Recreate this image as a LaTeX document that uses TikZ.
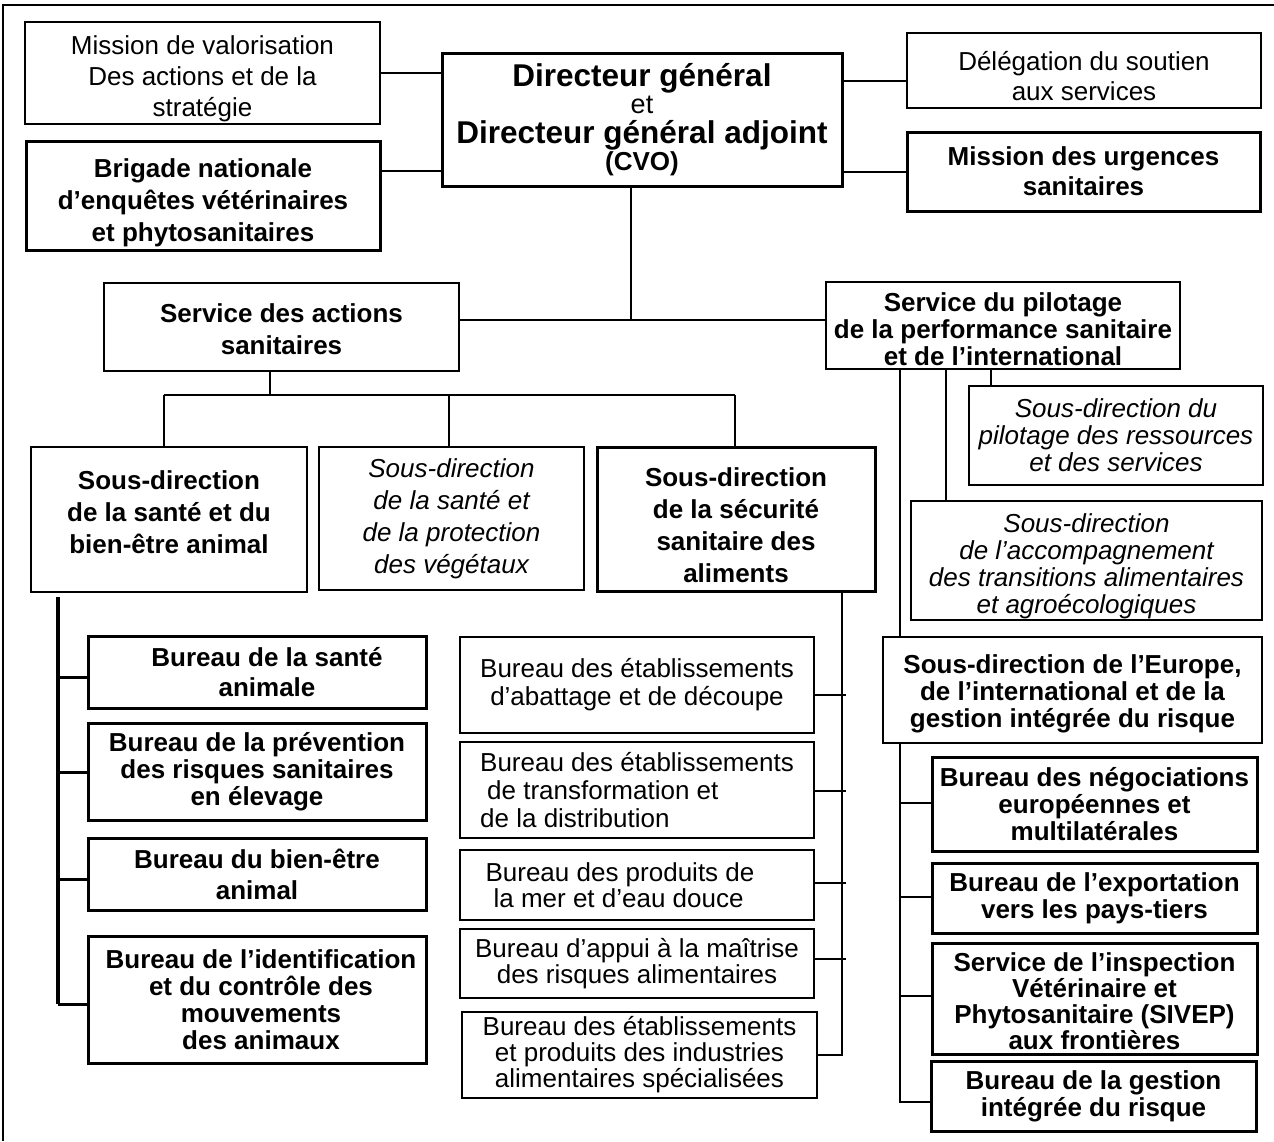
\documentclass[tikz,border=0pt]{standalone}
\usepackage{fontspec}
\setmainfont{Liberation Sans}
\newcommand\tightlines{\lineskiplimit=-40pt\lineskip=0pt}
\newcommand\tophi[1]{\rule{0pt}{#1pt}}
\newcommand\botlo[1]{\rule[-#1pt]{0pt}{0pt}}
\begin{document}
\begin{tikzpicture}[x=1pt,y=-1pt,
  bx/.style={draw, inner sep=0pt, outer sep=0pt, align=center, line width=#1},
  fn/.style={font={\fontsize{26}{#1}\selectfont\tightlines}},
  fb/.style={font={\fontsize{26}{#1}\selectfont\bfseries\tightlines}},
  fi/.style={font={\fontsize{26}{#1}\selectfont\itshape\tightlines}},
  con/.style={line width=2pt},
  thk/.style={line width=3pt}]
\useasboundingbox (0,0) rectangle (1274,1141);
\draw[line width=1.5pt] (3,1141) -- (3,5) -- (1274,5);

% top level
\node[bx=2pt, fn=31, minimum width=355pt, minimum height=102pt] (mv) at (202.5,73)
  {\tophi{31}Mission de valorisation\\Des actions et de la\\stratégie};
\node[bx=3pt, fb=32, minimum width=354pt, minimum height=109pt] (brig) at (203,195.5)
  {\tophi{33}Brigade nationale\\d’enquêtes vétérinaires\\et phytosanitaires};
\node[bx=3pt, fn=26, minimum width=400pt, minimum height=133pt] (dg) at (642,119.5)
  {{\fontsize{31.5}{26}\selectfont\bfseries Directeur général}\\[1pt]{\fontsize{27}{26}\selectfont et}\\[4pt]{\fontsize{31.5}{26}\selectfont\bfseries Directeur général adjoint}\\[1pt]{\bfseries (CVO)}};
\node[bx=2.5pt, fn=30, minimum width=354pt, minimum height=75pt] (del) at (1084,70.5)
  {\tophi{30}Délégation du soutien\\aux services};
\node[bx=3pt, fb=30, minimum width=353pt, minimum height=79pt] (mu) at (1083.5,171.5)
  {Mission des urgences\\sanitaires};

% services
\node[bx=2pt, fb=32, minimum width=355pt, minimum height=88pt] (sas) at (281.5,327)
  {\tophi{23}Service des actions\\sanitaires};
\node[bx=2.5pt, fb=27, minimum width=354pt, minimum height=87pt] (spp) at (1003,325.5)
  {\tophi{27}Service du pilotage\\de la performance sanitaire\\et de l’international};

% right sub-directions
\node[bx=2.5pt, fi=27, minimum width=294pt, minimum height=99pt] (spr) at (1116,435.5)
  {Sous-direction du\\pilotage des ressources\\et des services};
\node[bx=2.5pt, fi=27, minimum width=351pt, minimum height=119pt] (sac) at (1086.5,560.5)
  {\tophi{31}Sous-direction\\de l’accompagnement\\des transitions alimentaires\\et agroécologiques};
\node[bx=2.5pt, fb=27, minimum width=379pt, minimum height=106pt] (eur) at (1072.5,690)
  {\tophi{27}Sous-direction de l’Europe,\\de l’international et de la\\gestion intégrée du risque};

% middle sub-directions
\node[bx=2.5pt, fb=32, minimum width=276pt, minimum height=145pt] (sd1) at (169,519.5)
  {Sous-direction\\de la santé et du\\bien-être animal\botlo{14}};
\node[bx=2.5pt, fi=32, minimum width=265pt, minimum height=143pt] (sd2) at (451.5,518.5)
  {Sous-direction\\de la santé et\\de la protection\\des végétaux};
\node[bx=3pt, fb=32, minimum width=278pt, minimum height=144pt] (sd3) at (736,519)
  {\tophi{31}Sous-direction\\de la sécurité\\sanitaire des\\aliments};

% bureaux SD1
\node[bx=3pt, fb=30, minimum width=338pt, minimum height=72pt] (b11) at (257,672)
  {\hspace*{20pt}Bureau de la santé\\\hspace*{20pt}animale};
\node[bx=3pt, fb=27, minimum width=338pt, minimum height=97pt] (b12) at (257,771.5)
  {Bureau de la prévention\\des risques sanitaires\\en élevage};
\node[bx=3pt, fb=31, minimum width=338pt, minimum height=72pt] (b13) at (257,874)
  {Bureau du bien-être\\animal};
\node[bx=3pt, fb=27, minimum width=338pt, minimum height=127pt] (b14) at (257,999.5)
  {\hspace*{8pt}Bureau de l’identification\\\hspace*{8pt}et du contrôle des\\\hspace*{8pt}mouvements\\\hspace*{8pt}des animaux};

% bureaux SD3
\node[bx=2.5pt, fn=28, minimum width=354pt, minimum height=96pt] (b31) at (637,685)
  {Bureau des établissements\\d’abattage et de découpe};
\node[bx=2.5pt, fn=28, align=left, minimum width=354pt, minimum height=96pt] (b32) at (637,790)
  {Bureau des établissements\\\hspace*{7pt}de transformation et\\de la distribution};
\node[bx=2.5pt, fn=26, align=left, minimum width=354pt, minimum height=70pt] (b33) at (637,885)
  {Bureau des produits de\hspace*{34pt}\\\hspace*{8pt}la mer et d’eau douce};
\node[bx=2.5pt, fn=26, minimum width=354pt, minimum height=69pt] (b34) at (637,963.5)
  {Bureau d’appui à la maîtrise\\des risques alimentaires};
\node[bx=2.5pt, fn=26, minimum width=355pt, minimum height=86pt] (b35) at (639.5,1055)
  {Bureau des établissements\\et produits des industries\\alimentaires spécialisées};

% bureaux Europe
\node[bx=3pt, fb=27, minimum width=325pt, minimum height=94pt] (neg) at (1094.5,804)
  {Bureau des négociations\\européennes et\\multilatérales};
\node[bx=3pt, fb=27, minimum width=325pt, minimum height=70pt] (exp) at (1094.5,898)
  {Bureau de l’exportation\\vers les pays-tiers};
\node[bx=3pt, fb=26, minimum width=325pt, minimum height=111pt] (siv) at (1094.5,998.5)
  {\tophi{25}Service de l’inspection\\Vétérinaire et\\Phytosanitaire (SIVEP)\\aux frontières};
\node[bx=3pt, fb=27, minimum width=325pt, minimum height=70pt] (ges) at (1093.5,1096)
  {Bureau de la gestion\\intégrée du risque};

% top connectors
\draw[con] (mv.east) -- (dg.west |- mv.east);
\coordinate (cb) at (0,171);
\draw[con] (brig.east |- cb) -- (dg.west |- cb);
\coordinate (cd) at (0,81);
\draw[con] (dg.east |- cd) -- (del.west |- cd);
\draw[con] (dg.east |- mu.west) -- (mu.west);
\coordinate (j0) at (631,320);
\draw[con] (dg.south -| j0) -- (j0);
\draw[con] (sas.east |- j0) -- (spp.west |- j0);

% service des actions -> sous-directions
\coordinate (j1) at (270,395);
\draw[con] (sas.south -| j1) -- (j1);
\coordinate (h1) at (164,395);
\coordinate (h2) at (449,395);
\coordinate (h3) at (735,395);
\draw[con] (h1) -- (h3);
\draw[con] (h1) -- (sd1.north -| h1);
\draw[con] (h2) -- (sd2.north -| h2);
\draw[con] (h3) -- (sd3.north -| h3);

% SD1 bus
\coordinate (L0) at (58,597);
\coordinate (L1) at (58,677);
\coordinate (L2) at (58,772);
\coordinate (L3) at (58,879);
\coordinate (L4) at (58,1004);
\draw[line width=3.5pt] (L0) -- (L4);
\draw[thk] (L1) -- (b11.west |- L1);
\draw[thk] (L2) -- (b12.west |- L2);
\draw[thk] (L3) -- (b13.west |- L3);
\draw[thk] (L4) -- (b14.west |- L4);

% SD3 bus
\coordinate (M0) at (842,0);
\coordinate (M1) at (846,695);
\coordinate (M2) at (846,791);
\coordinate (M3) at (846,883);
\coordinate (M4) at (846,959);
\coordinate (M5) at (842,1055);
\draw[con] (sd3.south -| M0) -- (M5) -- (b35.east |- M5);
\draw[con] (b31.east |- M1) -- (M1);
\draw[con] (b32.east |- M2) -- (M2);
\draw[con] (b33.east |- M3) -- (M3);
\draw[con] (b34.east |- M4) -- (M4);

% right side
\coordinate (R0) at (900,0);
\coordinate (R1) at (900,803);
\coordinate (R2) at (900,897);
\coordinate (R3) at (900,996);
\coordinate (R4) at (900,1102);
\draw[con] (spp.south -| R0) -- (eur.north -| R0);
\draw[con] (eur.south -| R0) -- (R4) -- (ges.west |- R4);
\draw[con] (R1) -- (neg.west |- R1);
\draw[con] (R2) -- (exp.west |- R2);
\draw[con] (R3) -- (siv.west |- R3);
\coordinate (S1) at (946,0);
\coordinate (S2) at (991,0);
\draw[con] (spp.south -| S1) -- (sac.north -| S1);
\draw[con] (spp.south -| S2) -- (spr.north -| S2);
\end{tikzpicture}
\end{document}
